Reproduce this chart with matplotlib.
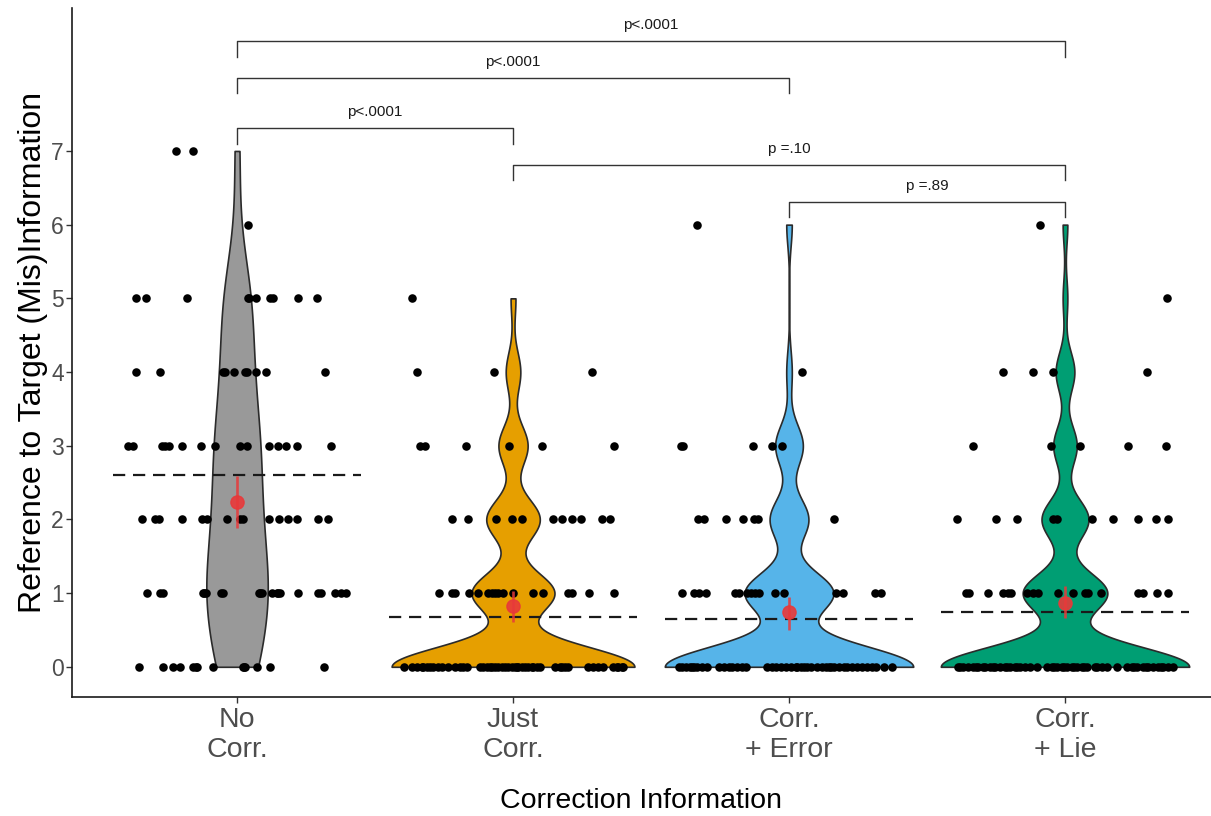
import numpy as np
import matplotlib
matplotlib.use("Agg")
import matplotlib.pyplot as plt
from matplotlib import cbook, mlab

plt.rcParams["font.family"] = ["Liberation Sans", "DejaVu Sans"]

categories = ["No\nCorr.", "Just\nCorr.", "Corr.\n+ Error", "Corr.\n+ Lie"]
fills = ["#999999", "#E69F00", "#56B4E9", "#009E73"]

# Responses per condition: score level -> horizontal jitter of each response
no_corr = {
    7: [-0.22, -0.16],
    6: [0.04],
    5: [-0.366, -0.33, -0.18, 0.04, 0.045, 0.07, 0.12, 0.13, 0.22, 0.29],
    4: [-0.367, -0.279, -0.05, -0.045, -0.01, 0.03, 0.035, 0.07, 0.105, 0.32],
    3: [-0.396, -0.377, -0.273, -0.26, -0.245, -0.2, -0.13, -0.08, 0.01, 0.035,
        0.116, 0.148, 0.178, 0.219, 0.339],
    2: [-0.345, -0.297, -0.282, -0.2, -0.128, -0.110, -0.037, 0.011, 0.021, 0.114,
        0.152, 0.186, 0.217, 0.293, 0.329],
    1: [-0.327, -0.278, -0.269, -0.124, -0.12, -0.112, -0.059, -0.052, 0.081, 0.085,
        0.089, 0.126, 0.143, 0.15, 0.155, 0.222, 0.294, 0.306, 0.354, 0.375, 0.395],
    0: [-0.355, -0.268, -0.233, -0.208, -0.161, -0.15, -0.146, -0.088, 0.02, 0.025,
        0.028, 0.071, 0.12, 0.315],
}
just_corr = {
    5: [-0.367],
    4: [-0.349, -0.069, 0.285],
    3: [-0.337, -0.319, -0.171, -0.013, 0.104, 0.366],
    2: [-0.222, -0.164, -0.062, -0.002, 0.031, 0.144, 0.176, 0.212, 0.245, 0.322, 0.351],
    1: [-0.268, -0.221, -0.210, -0.159, -0.127, -0.091, -0.076, -0.065, -0.054, -0.036,
        0.0, 0.072, 0.109, 0.199, 0.214, 0.275, 0.366],
    0: [-0.395, -0.367, -0.349, -0.331, -0.325, -0.313, -0.301, -0.289, -0.271, -0.258,
        -0.234, -0.210, -0.192, -0.180, -0.165, -0.120, -0.107, -0.095, -0.083, -0.077,
        -0.065, -0.053, -0.041, -0.029, -0.017, -0.005, 0.007, 0.013, 0.019, 0.031,
        0.043, 0.056, 0.068, 0.074, 0.086, 0.098, 0.152, 0.170, 0.176, 0.188,
        0.200, 0.273, 0.291, 0.309, 0.327, 0.364, 0.376, 0.382, 0.395, 0.400],
}
corr_error = {
    6: [-0.335],
    4: [0.048],
    3: [-0.393, -0.383, -0.131, -0.060, -0.027],
    2: [-0.329, -0.308, -0.227, -0.165, -0.127, -0.112, 0.163],
    1: [-0.386, -0.345, -0.326, -0.302, -0.196, -0.181, -0.151, -0.139, -0.123, -0.109,
        -0.052, -0.018, 0.171, 0.196, 0.312, 0.332],
    0: [-0.399, -0.386, -0.374, -0.359, -0.350, -0.344, -0.332, -0.314, -0.296, -0.254,
        -0.236, -0.217, -0.205, -0.187, -0.169, -0.157, -0.079, -0.060, -0.048, -0.030,
        -0.012, 0.006, 0.024, 0.030, 0.042, 0.054, 0.066, 0.079, 0.103, 0.121,
        0.133, 0.145, 0.151, 0.163, 0.181, 0.199, 0.211, 0.229, 0.248, 0.266,
        0.284, 0.302, 0.314, 0.344, 0.374],
}
corr_lie = {
    6: [-0.091],
    5: [0.371],
    4: [-0.223, -0.115, -0.042, 0.296],
    3: [-0.332, -0.051, 0.054, 0.227, 0.366],
    2: [-0.392, -0.250, -0.173, -0.045, -0.030, 0.097, 0.175, 0.266, 0.330, 0.374],
    1: [-0.357, -0.348, -0.278, -0.226, -0.205, -0.197, -0.136, -0.115, -0.097, -0.024,
        0.028, 0.072, 0.084, 0.130, 0.266, 0.283, 0.333, 0.374],
    0: [-0.386, -0.380, -0.368, -0.350, -0.332, -0.322, -0.314, -0.296, -0.290, -0.272,
        -0.262, -0.254, -0.236, -0.217, -0.209, -0.199, -0.181, -0.173, -0.163, -0.145,
        -0.127, -0.103, -0.066, -0.048, -0.040, -0.030, -0.012, -0.004, 0.006, 0.024,
        0.033, 0.042, 0.060, 0.069, 0.079, 0.110, 0.115, 0.133, 0.151, 0.187,
        0.223, 0.242, 0.250, 0.260, 0.284, 0.293, 0.302, 0.320, 0.338, 0.347,
        0.356, 0.374, 0.393],
}
groups = [no_corr, just_corr, corr_error, corr_lie]

# Condition means with 95% CI, and reference level per condition (dashed)
means = [2.24, 0.83, 0.74, 0.86]
ci_low = [1.88, 0.61, 0.50, 0.66]
ci_high = [2.59, 1.03, 0.95, 1.09]
ref_levels = [2.60, 0.68, 0.65, 0.74]

# Pairwise comparisons: (group a, group b, bracket height, label)
comparisons = [
    (1, 4, 8.49, "p<.0001"),
    (1, 3, 7.99, "p<.0001"),
    (1, 2, 7.31, "p<.0001"),
    (2, 4, 6.81, "p =.10"),
    (3, 4, 6.31, "p =.89"),
]


def bw_nrd0(x):
    sd = np.std(x, ddof=1)
    q75, q25 = np.percentile(x, [75, 25])
    lo = min(sd, (q75 - q25) / 1.34)
    if lo <= 0:
        lo = sd
    return 0.9 * lo * len(x) ** -0.2


def kde(x, coords):
    factor = bw_nrd0(x) / np.std(x, ddof=1)
    return mlab.GaussianKDE(x, bw_method=factor).evaluate(coords)


values = []
jitter = []
for g in groups:
    ys, xs = [], []
    for level, offs in g.items():
        ys += [float(level)] * len(offs)
        xs += list(offs)
    values.append(np.array(ys))
    jitter.append(np.array(xs))

positions = np.arange(1, len(categories) + 1)

fig = plt.figure(figsize=(12.11, 8.16), dpi=100)
ax = fig.add_axes([72 / 1211, 119 / 816, 1 - 72 / 1211, 689 / 816])

# Violins scaled so every violin has the same area
stats = cbook.violin_stats(values, kde, points=512)
peak = max(s["vals"].max() for s in stats)
widths = [0.9 * s["vals"].max() / peak for s in stats]
parts = ax.violin(stats, positions=positions, widths=widths,
                  showmeans=False, showextrema=False, showmedians=False)
for body, c in zip(parts["bodies"], fills):
    body.set_facecolor(c)
    body.set_edgecolor("#2b2b2b")
    body.set_linewidth(1.2)
    body.set_alpha(1)
    body.set_zorder(2)

# Individual responses
for p, xs, ys in zip(positions, jitter, values):
    ax.scatter(p + xs, ys, s=38, color="black", linewidths=0, zorder=3)

# Reference levels
for p, r in zip(positions, ref_levels):
    ax.plot([p - 0.45, p + 0.45], [r, r], color="#1a1a1a", lw=1.6,
            dashes=(5.5, 3.5), zorder=4)

# Means with confidence intervals
ax.vlines(positions, ci_low, ci_high, color="#E8393A", lw=1.9, alpha=0.85, zorder=5)
ax.plot(positions, means, "o", color="#E8393A", ms=9.5, alpha=0.9, zorder=6)

# Significance brackets
for a, b, h, lab in comparisons:
    ax.plot([a, a, b, b], [h - 0.21, h, h, h - 0.21], color="#333333", lw=1.0,
            zorder=4, clip_on=False)
    ax.text((a + b) / 2, h + 0.22, lab, ha="center", va="center", fontsize=11,
            color="#1a1a1a")

ax.set_xlim(0.402, 4.529)
ax.set_ylim(-0.41, 8.94)
ax.set_xticks(positions)
ax.set_xticklabels(categories, fontsize=20.5, color="#4D4D4D", linespacing=1.2)
ax.set_yticks(range(0, 8))
ax.set_yticklabels([str(i) for i in range(0, 8)], fontsize=16.5, color="#4D4D4D")
ax.tick_params(axis="both", length=4, width=1, color="#333333")
ax.tick_params(axis="x", pad=3)
ax.tick_params(axis="y", pad=2)

for side in ("top", "right"):
    ax.spines[side].set_visible(False)
for side in ("left", "bottom"):
    ax.spines[side].set_color("#1a1a1a")
    ax.spines[side].set_linewidth(1.2)

ax.set_xlabel("Correction Information", fontsize=20.5, color="black", va="center")
ax.xaxis.set_label_coords(0.5, (697 - 801) / 689)
ax.set_ylabel("Reference to Target (Mis)Information", fontsize=23, color="black",
              va="center")
ax.yaxis.set_label_coords((33 - 72) / 1139, 0.5)

fig.savefig("out.png", dpi=100, facecolor="white")
